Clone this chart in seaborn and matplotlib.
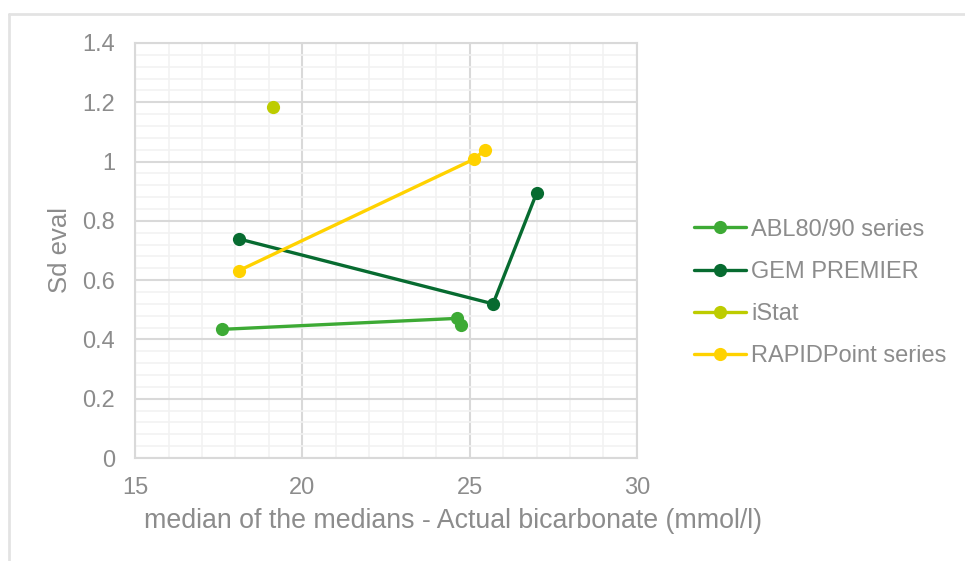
import pandas as pd
import matplotlib
matplotlib.use('Agg')
import matplotlib.pyplot as plt
import seaborn as sns
from matplotlib.lines import Line2D
from matplotlib.ticker import MultipleLocator

# data
abl_x = [17.6, 24.63, 24.75]
abl_y = [0.434, 0.471, 0.449]
gem_x = [18.1, 25.7, 27.0]
gem_y = [0.739, 0.520, 0.893]
istat_x = [19.13]
istat_y = [1.185]
rapid_x = [18.1, 25.13, 25.45]
rapid_y = [0.632, 1.008, 1.039]

series_names = ['ABL80/90 series', 'GEM PREMIER', 'iStat', 'RAPIDPoint series']
series_colors = ['#3DAA35', '#076B30', '#BDCC00', '#FFD200']

frames = []
for name, xs, ys in zip(series_names,
                        [abl_x, gem_x, istat_x, rapid_x],
                        [abl_y, gem_y, istat_y, rapid_y]):
    frames.append(pd.DataFrame({'x': xs, 'y': ys, 'series': name,
                                'order': range(len(xs))}))
df = pd.concat(frames, ignore_index=True)

sns.set_theme(style='white')
plt.rcParams['font.family'] = ['Liberation Sans', 'DejaVu Sans']
text_color = '#8C8C8C'

fig = plt.figure(figsize=(9.65, 5.61), dpi=100)
ax = fig.add_axes([0.140, 0.1836, 0.520, 0.7398])

palette = dict(zip(series_names, series_colors))
sns.lineplot(data=df, x='x', y='y', hue='series', units='series', estimator=None,
             sort=False, palette=palette, linewidth=2.4, marker='o',
             markersize=9.5, markeredgewidth=0, legend=False, ax=ax)

ax.set_xlim(15, 30)
ax.set_ylim(0, 1.4)
ax.xaxis.set_major_locator(MultipleLocator(5))
ax.xaxis.set_minor_locator(MultipleLocator(1))
ax.yaxis.set_major_locator(MultipleLocator(0.2))
ax.yaxis.set_minor_locator(MultipleLocator(0.04))
ax.set_yticks([0, 0.2, 0.4, 0.6, 0.8, 1.0, 1.2, 1.4])
ax.set_yticklabels(['0', '0.2', '0.4', '0.6', '0.8', '1', '1.2', '1.4'])
ax.grid(which='major', color='#D9D9D9', linewidth=1.5)
ax.grid(which='minor', color='#F2F2F2', linewidth=1.2)
ax.set_axisbelow(True)
for s in ax.spines.values():
    s.set_color('#D9D9D9')
    s.set_linewidth(1.5)
ax.tick_params(axis='y', which='both', length=0, labelsize=17, colors=text_color, pad=14.4)
ax.tick_params(axis='x', which='both', length=0, labelsize=17, colors=text_color, pad=14)

ax.set_xlabel('median of the medians - Actual bicarbonate (mmol/l)',
              fontsize=19.3, color=text_color, labelpad=6)
ax.xaxis.label.set_x(0.633)
ax.set_ylabel('Sd eval', fontsize=18.5, color=text_color, labelpad=7.5)

handles = [Line2D([0], [0], color=c, linewidth=2.4, marker='o', markersize=9.5,
                  markeredgewidth=0) for c in series_colors]
fig.legend(handles, series_names, loc='center left', bbox_to_anchor=(0.6976, 0.478),
           frameon=False, fontsize=17, labelcolor=text_color, handlelength=2.2,
           handletextpad=0.2, labelspacing=0.85)

# outer chart border (top and left visible)
fig.add_artist(Line2D([0.009, 1.0], [0.975, 0.975], color='#E3E3E3', linewidth=2,
                      transform=fig.transFigure))
fig.add_artist(Line2D([0.009, 0.009], [0.0, 0.975], color='#E3E3E3', linewidth=2,
                      transform=fig.transFigure))

fig.savefig('out.png', dpi=100)
